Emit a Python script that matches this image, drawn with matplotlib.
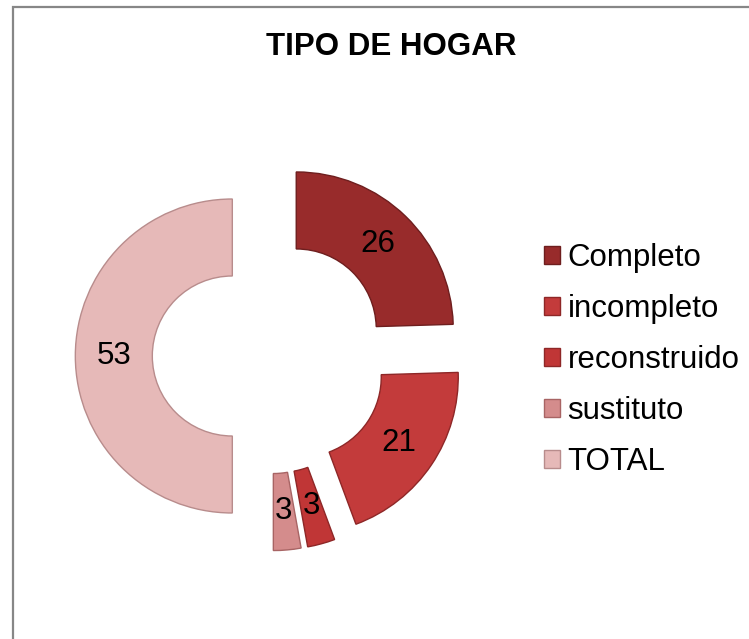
import matplotlib
matplotlib.use("Agg")
import matplotlib.pyplot as plt
from matplotlib.patches import Patch, Rectangle

plt.rcParams["font.family"] = ["Liberation Sans", "DejaVu Sans"]

# ── Data ───────────────────────────────────────────────────────────────────
categories = ["Completo", "incompleto", "reconstruido", "sustituto", "TOTAL"]
values     = [26, 21, 3, 3, 53]
colors     = ["#982B2B", "#C33B3B", "#C03636", "#D48C8C", "#E6B9B8"]
edges      = ["#6E1E1E", "#8E2727", "#8E2727", "#A86464", "#B88C8C"]
title      = "TIPO DE HOGAR"

W, H = 749, 639
fig = plt.figure(figsize=(W / 100, H / 100), dpi=100)
ax = fig.add_axes([0, 0, 1, 1])

# pie in pixel-like data units
R = 157
cx, cy = 270, H - 356
total = sum(values)

wedges, _, autotexts = ax.pie(
    values,
    colors=colors,
    startangle=90,
    counterclock=False,
    radius=R,
    center=(cx, cy),
    explode=[0.24 * R] * len(values),   # explode is in data units
    autopct=lambda p: f"{round(p * total / 100)}",
    pctdistance=0.75,
    wedgeprops=dict(width=77, linewidth=1.0),
    textprops=dict(fontsize=22.5, color="black"),
    frame=False,
)
for w, ec in zip(wedges, edges):
    w.set_edgecolor(ec)

ax.set_xlim(0, W)
ax.set_ylim(0, H)
ax.set_aspect("auto")
ax.axis("off")

# title
fig.text(391 / W, 1 - 47 / H, title, ha="center", va="center",
         fontsize=22.5, fontweight="bold")

# legend
handles = [Patch(facecolor=c, edgecolor=e, linewidth=1.0)
           for c, e in zip(colors, edges)]
fig.legend(handles, categories, loc="center left",
           bbox_to_anchor=(544 / W, 1 - 360 / H),
           frameon=False, fontsize=22.5, borderpad=0, borderaxespad=0,
           handlelength=0.5, handleheight=0.5, handletextpad=0.25,
           labelspacing=0.67)

# chart area border (top and left visible)
fig.add_artist(Rectangle((12.5 / W, -0.1), 1.1, (H - 7) / H + 0.1,
                         transform=fig.transFigure, fill=False,
                         edgecolor="#878787", linewidth=1.6))

fig.savefig("out.png", dpi=100)
